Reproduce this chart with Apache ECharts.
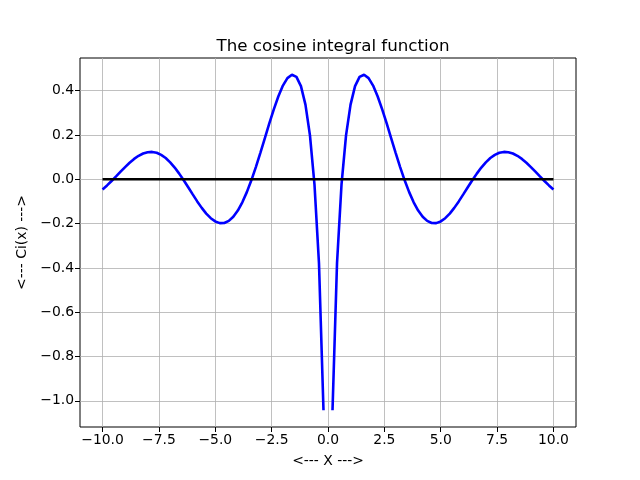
<!DOCTYPE html>
<html><head><meta charset="utf-8">
<script src="https://cdn.jsdelivr.net/npm/echarts@6/dist/echarts.min.js"></script>
<style>html,body{margin:0;padding:0;background:#fff}#c{width:640px;height:480px}</style>
</head><body><div id="c"></div>
<script>
const xValues = [
  -10, -9.8, -9.6, -9.4, -9.2, -9, -8.8, -8.6, -8.4, -8.2,
  -8, -7.8, -7.6, -7.4, -7.2, -7, -6.8, -6.6, -6.4, -6.2,
  -6, -5.8, -5.6, -5.4, -5.2, -5, -4.8, -4.6, -4.4, -4.2,
  -4, -3.8, -3.6, -3.4, -3.2, -3, -2.8, -2.6, -2.4, -2.2,
  -2, -1.8, -1.6, -1.4, -1.2, -1, -0.8, -0.6, -0.4, -0.2,
  0,
  0.2, 0.4, 0.6, 0.8, 1, 1.2, 1.4, 1.6, 1.8, 2,
  2.2, 2.4, 2.6, 2.8, 3, 3.2, 3.4, 3.6, 3.8, 4,
  4.2, 4.4, 4.6, 4.8, 5, 5.2, 5.4, 5.6, 5.8, 6,
  6.2, 6.4, 6.6, 6.8, 7, 7.2, 7.4, 7.6, 7.8, 8,
  8.2, 8.4, 8.6, 8.8, 9, 9.2, 9.4, 9.6, 9.8, 10
];
const ciValues = [
  -0.0455, -0.0275, -0.0077, 0.0133, 0.0346, 0.0553, 0.0749, 0.0921, 0.1062, 0.1166,
  0.1224, 0.1237, 0.1197, 0.1104, 0.0960, 0.0767, 0.0531, 0.0258, -0.0043, -0.0360,
  -0.0681, -0.0996, -0.1289, -0.1546, -0.1754, -0.1900, -0.1977, -0.1971, -0.1877, -0.1690,
  -0.1410, -0.1037, -0.0579, -0.0045, 0.0552, 0.1196, 0.1864, 0.2532, 0.3171, 0.3750,
  0.4230, 0.4569, 0.4719, 0.4621, 0.4204, 0.3374, 0.1983, -0.0223, -0.3788, -1.0422,
  null,
  -1.0422, -0.3788, -0.0223, 0.1983, 0.3374, 0.4204, 0.4621, 0.4719, 0.4569, 0.4230,
  0.3750, 0.3171, 0.2532, 0.1864, 0.1196, 0.0552, -0.0045, -0.0579, -0.1037, -0.1410,
  -0.1690, -0.1877, -0.1971, -0.1977, -0.1900, -0.1754, -0.1546, -0.1289, -0.0996, -0.0681,
  -0.0360, -0.0043, 0.0258, 0.0531, 0.0767, 0.0960, 0.1104, 0.1197, 0.1237, 0.1224,
  0.1166, 0.1062, 0.0921, 0.0749, 0.0553, 0.0346, 0.0133, -0.0077, -0.0275, -0.0455
];
const zeroX = [-10, 10];
const zeroY = [0, 0];
const xTicks = [-10, -7.5, -5, -2.5, 0, 2.5, 5, 7.5, 10];
const yTicks = [-1.0, -0.8, -0.6, -0.4, -0.2, 0.0, 0.2, 0.4];

const fmt = v => (v < 0 ? '\u2212' : '') + Math.abs(v).toFixed(1);
const font = 'DejaVu Sans';

const ciData = xValues.map((x, i) => [x, ciValues[i]]);
const zeroData = zeroX.map((x, i) => [x, zeroY[i]]);

const chart = echarts.init(document.getElementById('c'), null, {renderer: 'canvas'});
chart.setOption({
  animation: false,
  backgroundColor: '#fff',
  title: {
    text: 'The cosine integral function',
    left: 328, top: 33, textAlign: 'center',
    textStyle: {fontFamily: font, fontSize: 16.7, fontWeight: 'normal', color: '#000'}
  },
  grid: {left: 80, right: 64, top: 58, bottom: 53, show: true, borderColor: '#000', borderWidth: 1, backgroundColor: 'transparent'},
  xAxis: {
    type: 'value', min: -11, max: 11,
    name: '<--- X --->', nameLocation: 'middle', nameGap: 27,
    nameTextStyle: {fontFamily: font, fontSize: 13.9, color: '#000'},
    axisLine: {show: false, onZero: false},
    axisTick: {show: true, customValues: xTicks, length: 5, inside: false, lineStyle: {color: '#000', width: 1}},
    axisLabel: {customValues: xTicks, formatter: fmt, fontFamily: font, fontSize: 13.9, color: '#000', margin: 6},
    splitLine: {show: true, lineStyle: {color: '#b0b0b0', width: 0.8}}
  },
  yAxis: {
    type: 'value', min: -1.1179, max: 0.5476,
    name: '<--- Ci(x) --->', nameLocation: 'middle', nameGap: 51, nameRotate: 90,
    nameTextStyle: {fontFamily: font, fontSize: 13.9, color: '#000'},
    axisLine: {show: false, onZero: false},
    axisTick: {show: true, customValues: yTicks, length: 5, inside: false, lineStyle: {color: '#000', width: 1}},
    axisLabel: {customValues: yTicks, formatter: fmt, fontFamily: font, fontSize: 13.9, color: '#000', margin: 6},
    splitLine: {show: true, lineStyle: {color: '#b0b0b0', width: 0.8}}
  },
  series: [
    {type: 'line', data: ciData, showSymbol: false, connectNulls: false,
     lineStyle: {color: '#0000ff', width: 2.6}, itemStyle: {color: '#0000ff'}, z: 3},
    {type: 'line', data: zeroData, showSymbol: false,
     lineStyle: {color: '#000000', width: 2.6}, itemStyle: {color: '#000'}, z: 4}
  ]
});
</script>
</body></html>
